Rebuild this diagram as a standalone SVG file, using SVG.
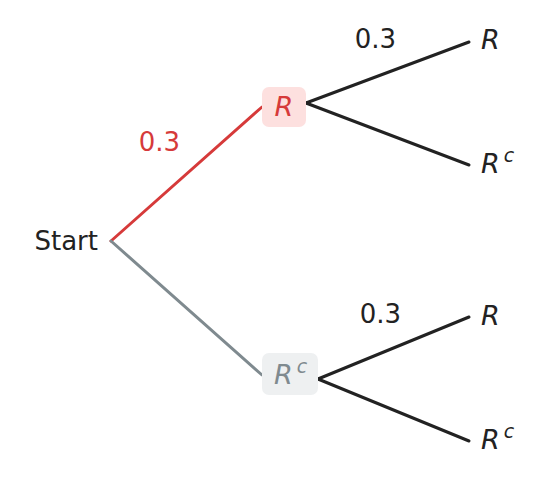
<svg xmlns="http://www.w3.org/2000/svg" width="547" height="484" viewBox="0 0 547 484">
<style>
text{font-family:"DejaVu Sans","Liberation Sans",sans-serif;font-size:26px;fill:#222222}
.it{font-style:italic;font-size:27px}
.sup{font-size:19px}
.red{fill:#d63a3a}
.grey{fill:#7f8a8f}
.e{fill:none;stroke-width:3;stroke-linecap:round}
.k{stroke:#222222}
.r{stroke:#d63a3a}
.g{stroke:#7f8a8f}
</style>
<rect width="547" height="484" fill="#ffffff"/>
<g id="connectors">
<line class="e r" x1="111" y1="241" x2="262" y2="107"/>
<line class="e g" x1="111" y1="241" x2="262" y2="375"/>
<line class="e k" x1="306" y1="103" x2="469" y2="42"/>
<line class="e k" x1="306" y1="103" x2="469" y2="165"/>
<line class="e k" x1="318" y1="379" x2="469" y2="317"/>
<line class="e k" x1="318" y1="379" x2="469" y2="441"/>
</g>
<g id="labels">
<text x="159.5" y="151" text-anchor="middle" class="red">0.3</text>
<text x="375.5" y="48" text-anchor="middle">0.3</text>
<text x="380.5" y="323" text-anchor="middle">0.3</text>
</g>
<g id="start"><text x="98" y="250" text-anchor="end">Start</text></g>
<g id="nodeR">
<rect x="262" y="87" width="44" height="40" rx="7" fill="#fde0df"/>
<text x="284" y="116" text-anchor="middle" class="it red">R</text>
</g>
<g id="nodeRc">
<rect x="262" y="353" width="56" height="42" rx="7" fill="#eef0f1"/>
<text x="274" y="384" class="it grey">R<tspan class="sup" dx="4" dy="-11">c</tspan></text>
</g>
<g id="leaf1"><text x="481" y="49" class="it">R</text></g>
<g id="leaf2"><text x="481" y="173" class="it">R<tspan class="sup" dx="4" dy="-11">c</tspan></text></g>
<g id="leaf3"><text x="481" y="325" class="it">R</text></g>
<g id="leaf4"><text x="481" y="449" class="it">R<tspan class="sup" dx="4" dy="-11">c</tspan></text></g>
</svg>
